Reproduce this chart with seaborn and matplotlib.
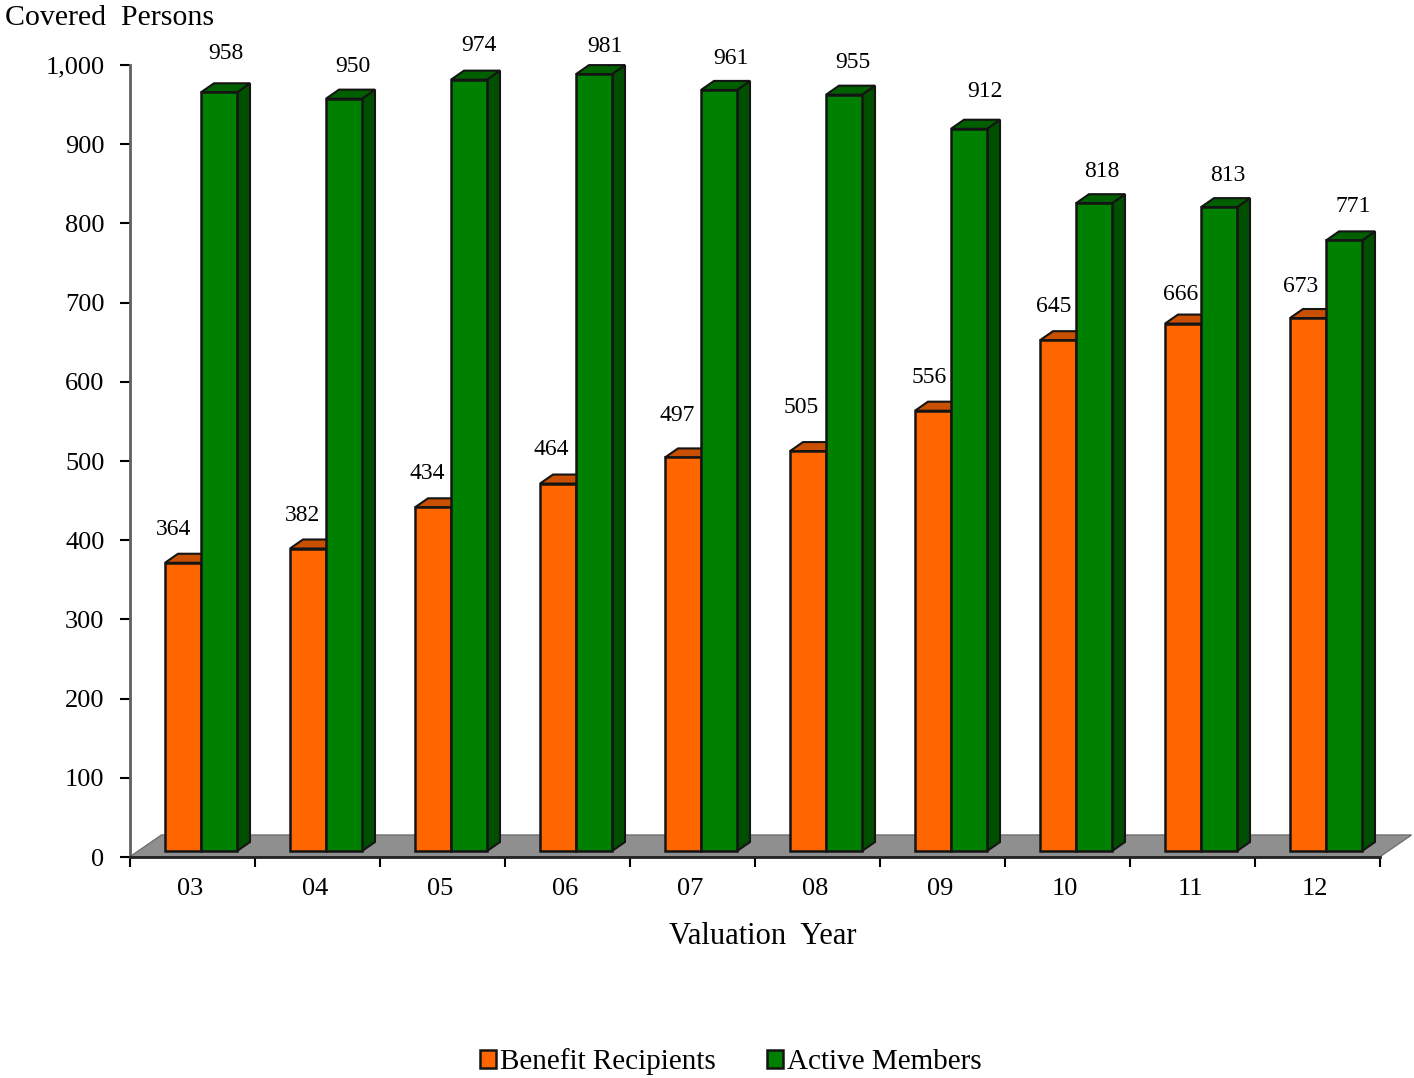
import seaborn as sns
import pandas as pd
import numpy as np
import matplotlib.pyplot as plt
from matplotlib.patches import Polygon

years = ['03', '04', '05', '06', '07', '08', '09', '10', '11', '12']
benefit_recipients = [364, 382, 434, 464, 497, 505, 556, 645, 666, 673]
active_members = [958, 950, 974, 981, 961, 955, 912, 818, 813, 771]
yticks = [0, 100, 200, 300, 400, 500, 600, 700, 800, 900, 1000]

# label nudges in pixels, the original labels sit a bit unevenly
orange_nudge = [(9, 33), (12, 33), (12, 34), (11, 34), (12, 42), (11, 44), (14, 33), (14, 34), (16, 29), (11, 32)]
green_nudge = [(25, 39), (27, 32), (28, 34), (29, 28), (30, 31), (27, 32), (34, 37), (26, 32), (27, 32), (27, 34)]

FONT = 'Liberation Serif'
ORANGE = '#ff6600'
GREEN = '#008000'
EDGE = '#141414'

sns.set_theme(style='white')
plt.rcParams['font.family'] = [FONT, 'DejaVu Sans']

df = pd.DataFrame({
    'year': years * 2,
    'count': benefit_recipients + active_members,
    'series': ['Benefit Recipients'] * 10 + ['Active Members'] * 10,
})

fig = plt.figure(figsize=(14.14, 10.78), dpi=100)
ax = fig.add_axes([129.5 / 1414, (1078 - 857) / 1078, 1250 / 1414, 792 / 1078])

sns.barplot(data=df, x='year', y='count', hue='series', ax=ax, width=0.576, gap=0,
            palette=[ORANGE, GREEN], saturation=1, edgecolor=EDGE, linewidth=1.8, errorbar=None)

ax.set_xlim(-0.5, 9.5)
ax.set_ylim(0, 1000)

# grey floor of the fake 3d box
floor_dx, floor_dy = 0.256, 27.8
ax.add_patch(Polygon([(-0.5, 0), (9.5, 0), (9.5 + floor_dx, floor_dy), (-0.5 + floor_dx, floor_dy)],
                     closed=True, facecolor='#8f8f8f', edgecolor='#707070', linewidth=1,
                     clip_on=False, zorder=0.5))

# move the bars back onto the floor and give them a side and a top
shift_x, shift_y = 0.072, 7.5
depth_x, depth_y = 0.104, 11.4
shades = [('#b34700', '#c85000'), ('#004f00', '#006000')]
for i, container in enumerate(ax.containers):
    side_color, top_color = shades[i]
    for bar in container:
        bar.set_x(bar.get_x() + shift_x)
        bar.set_y(bar.get_y() + shift_y)
        bar.set_zorder(1.2 + i * 0.2)
        bar.set_clip_on(False)
        x0, x1 = bar.get_x(), bar.get_x() + bar.get_width()
        y0, y1 = bar.get_y(), bar.get_y() + bar.get_height()
        side = [(x1, y0), (x1 + depth_x, y0 + depth_y), (x1 + depth_x, y1 + depth_y), (x1, y1)]
        top = [(x0, y1), (x0 + depth_x, y1 + depth_y), (x1 + depth_x, y1 + depth_y), (x1, y1)]
        for pts, color in ((side, side_color), (top, top_color)):
            ax.add_patch(Polygon(pts, closed=True, facecolor=color, edgecolor=EDGE, linewidth=1.5,
                                 clip_on=False, zorder=1.1 + i * 0.2))

for container, values, nudges in zip(ax.containers, (benefit_recipients, active_members), (orange_nudge, green_nudge)):
    for bar, value, (dx, dy) in zip(container, values, nudges):
        ax.annotate(str(value), (bar.get_x(), bar.get_y() + bar.get_height()), xytext=(dx, dy),
                    textcoords='offset pixels', ha='center', va='center', fontsize=17,
                    color='black', annotation_clip=False)

# ticks at the group boundaries, labels in between
ax.set_xticks(np.arange(-0.5, 10, 1))
ax.set_xticklabels([])
ax.set_xticks(np.arange(10) - 0.015, labels=years, minor=True)
ax.set_yticks(yticks)
ax.set_yticklabels([f'{v:,}' for v in yticks])
ax.tick_params(axis='x', which='major', length=7, width=1.5, color='black', direction='out', bottom=True)
ax.tick_params(axis='x', which='minor', length=0, pad=15, labelsize=19, labelcolor='black')
ax.tick_params(axis='y', length=7, width=1.5, color='black', direction='out', left=True, pad=11,
               labelsize=19, labelcolor='black')

for name in ['top', 'right']:
    ax.spines[name].set_visible(False)
ax.spines['left'].set_color('#606060')
ax.spines['left'].set_linewidth(2)
ax.spines['bottom'].set_color('#222222')
ax.spines['bottom'].set_linewidth(2)

ax.set_xlabel('')
ax.set_ylabel('')
fig.text(5 / 1414, 1 - 18 / 1078, 'Covered  Persons', fontsize=21.5, ha='left', va='center', color='black')
fig.text(763 / 1414, 1 - 937 / 1078, 'Valuation  Year', fontsize=22, ha='center', va='center', color='black')

sns.move_legend(ax, 'center', bbox_to_anchor=(731 / 1414, 1 - 1062 / 1078), bbox_transform=fig.transFigure,
                ncol=2, frameon=False, title=None, fontsize=21, handlelength=0.55, handleheight=0.55,
                handletextpad=0.14, columnspacing=1.75, labelcolor='black')

fig.savefig('out.png', dpi=100)
